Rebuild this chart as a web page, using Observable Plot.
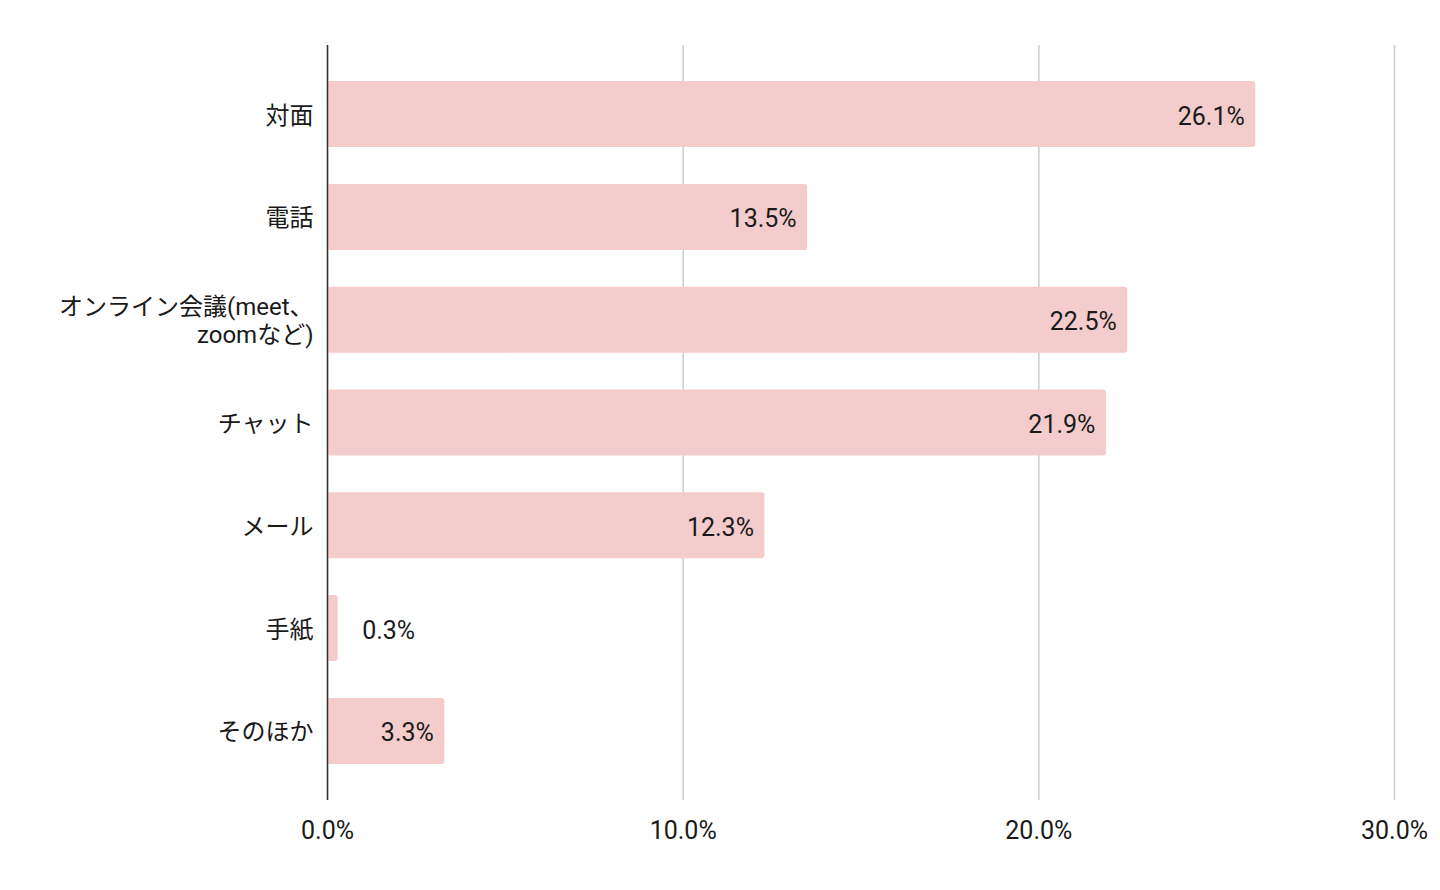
<!DOCTYPE html>
<html><head><meta charset="utf-8">
<script src="https://cdn.jsdelivr.net/npm/d3@7"></script>
<script src="https://cdn.jsdelivr.net/npm/@observablehq/plot@0.6"></script>
<style>html,body{margin:0;padding:0;background:#fff} svg{display:block}</style>
</head><body><div id="chart"></div>
<script>
const categories = ["対面", "電話", "オンライン会議(meet、\nzoomなど)", "チャット", "メール", "手紙", "そのほか"];
const values = [26.1, 13.5, 22.5, 21.9, 12.3, 0.3, 3.3];
const xTicks = [0, 10, 20, 30];
const data = categories.map((c, i) => ({category: c, value: values[i]}));
const font = "Roboto, 'Noto Sans CJK JP', sans-serif";
const fmt = d => d.toFixed(1) + "%";
const chart = Plot.plot({
  width: 1440, height: 890,
  marginLeft: 327, marginRight: 46, marginTop: 45, marginBottom: 90,
  style: {fontFamily: font, fontSize: "25px", color: "#1a1a1a", background: "#fff"},
  x: {domain: [0, 30], label: null},
  y: {domain: categories, paddingInner: 0.358, paddingOuter: 0.351, round: false, label: null},
  marks: [
    Plot.gridX(xTicks, {stroke: "#ccc", strokeOpacity: 1, strokeWidth: 1.5}),
    Plot.barX(data, {x: "value", y: "category", fill: "#f4cccc", rx: 3}),
    Plot.ruleX([0], {stroke: "#333", strokeWidth: 1.5}),
    Plot.axisX(xTicks, {anchor: "bottom", label: null, tickSize: 0, tickPadding: 21, tickFormat: fmt, fontSize: 25, fill: "#1a1a1a"}),
    Plot.axisY({anchor: "left", label: null, tickSize: 0, tickPadding: 14, lineHeight: 1.17, fontSize: 24, fill: "#1a1a1a"}),
    Plot.text(data.filter(d => d.value >= 1), {x: "value", y: "category", text: d => fmt(d.value), textAnchor: "end", dx: -11, dy: 2, fontSize: 25, fill: "#1a1a1a"}),
    Plot.text(data.filter(d => d.value < 1), {x: "value", y: "category", text: d => fmt(d.value), textAnchor: "start", dx: 24, dy: 2, fontSize: 25, fill: "#1a1a1a"})
  ]
});
document.getElementById("chart").append(chart);
</script>
</body></html>
